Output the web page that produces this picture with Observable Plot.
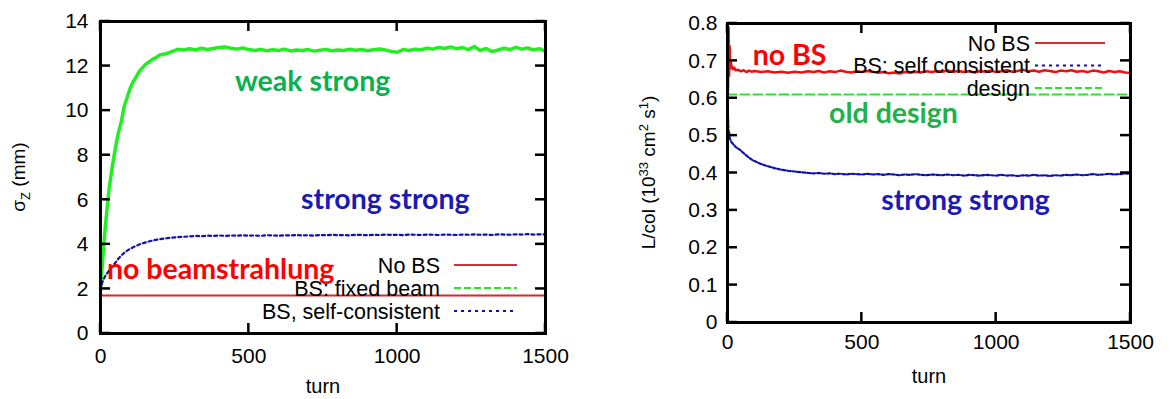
<!DOCTYPE html>
<html><head><meta charset="utf-8">
<script src="https://cdn.jsdelivr.net/npm/d3@7"></script>
<script src="https://cdn.jsdelivr.net/npm/@observablehq/plot@0.6"></script>
<style>
body{margin:0;background:#fff;}
#wrap{position:relative;width:1171px;height:399px;overflow:hidden;background:#fff;}
#left,#right{position:absolute;top:0;}
#left{left:0;} #right{left:585px;}
</style></head><body><div id="wrap"><div id="left"></div><div id="right"></div></div>
<script>
// ---------- tick labels ----------
const xTicks = [0, 500, 1000, 1500];
const leftYTicks = [0, 2, 4, 6, 8, 10, 12, 14];
const rightYTicks = [0, 0.1, 0.2, 0.3, 0.4, 0.5, 0.6, 0.7, 0.8];

// ---------- left panel: sigma_z (mm) vs turn ----------
const leftTurns = [0,5,10,15,20,25,30,40,50,60,70,80,90,100,110,120,130,140,150,160,175,190,200,220,240,260,280,
  300,320,340,360,380,400,420,440,460,480,500,520,540,560,580,600,620,640,660,680,700,720,740,760,780,800,
  820,840,860,880,900,920,940,960,980,1000,1020,1040,1060,1080,1100,1120,1140,1160,1180,1200,1220,1240,1260,
  1280,1300,1320,1340,1360,1380,1400,1420,1440,1460,1480,1500];
const weakStrong = [2.0,2.9,3.8,4.6,5.3,6.0,6.6,7.5,8.3,9.0,9.5,10.2,10.6,11.0,11.3,11.5,11.75,11.9,12.05,12.15,12.3,12.4,12.5,12.55,12.65,12.75,12.72,
  12.78,12.72,12.80,12.74,12.79,12.83,12.86,12.80,12.76,12.81,12.74,12.70,12.75,12.69,12.73,12.70,12.76,12.68,12.72,12.70,12.74,12.67,12.71,12.75,12.69,12.72,
  12.70,12.76,12.71,12.74,12.69,12.73,12.77,12.72,12.66,12.62,12.74,12.70,12.76,12.73,12.80,12.76,12.84,12.79,12.86,12.78,12.83,12.74,12.88,
  12.70,12.79,12.65,12.72,12.80,12.74,12.84,12.76,12.81,12.73,12.78,12.66];
const strongStrongL = [1.95,2.25,2.42,2.55,2.65,2.75,2.85,3.0,3.18,3.35,3.5,3.62,3.72,3.8,3.87,3.93,3.99,4.04,4.08,4.12,4.17,4.21,4.23,4.27,4.3,4.32,4.34,
  4.36,4.38,4.37,4.39,4.38,4.40,4.38,4.40,4.39,4.41,4.39,4.40,4.38,4.41,4.40,4.39,4.41,4.40,4.42,4.40,4.41,4.39,4.42,4.41,4.43,4.41,
  4.42,4.40,4.43,4.42,4.41,4.43,4.42,4.44,4.42,4.43,4.41,4.44,4.43,4.42,4.44,4.43,4.42,4.44,4.43,4.42,4.44,4.43,4.45,
  4.43,4.44,4.42,4.45,4.44,4.43,4.45,4.44,4.46,4.44,4.45,4.45];
const noBSLTurns = [0, 250, 500, 750, 1000, 1250, 1500];
const noBSL = [1.7, 1.7, 1.7, 1.7, 1.7, 1.7, 1.7];

// ---------- right panel: L/col vs turn ----------
const rightTurns = [0,2,4,6,8,10,12,15,20,25,30,40,50,60,70,80,90,100,125,150,175,200,225,250,275,300,
  320,340,360,380,400,420,440,460,480,500,520,540,560,580,600,620,640,660,680,700,720,740,760,780,800,
  820,840,860,880,900,920,940,960,980,1000,1020,1040,1060,1080,1100,1120,1140,1160,1180,1200,1220,1240,1260,
  1280,1300,1320,1340,1360,1380,1400,1420,1440,1460,1480,1500];
const noBSR = [0.64,0.62,0.79,0.66,0.74,0.68,0.70,0.685,0.678,0.682,0.675,0.676,0.672,0.675,0.670,0.674,0.671,0.673,0.670,0.672,0.669,0.671,0.668,0.671,0.669,0.672,
  0.670,0.673,0.669,0.672,0.670,0.674,0.671,0.669,0.672,0.670,0.673,0.671,0.668,0.670,0.667,0.669,0.666,0.670,0.668,0.671,0.669,0.672,0.670,0.673,0.671,
  0.674,0.671,0.673,0.670,0.672,0.669,0.673,0.671,0.674,0.670,0.672,0.675,0.671,0.673,0.676,0.672,0.674,0.671,0.675,0.673,0.670,0.674,0.672,
  0.675,0.671,0.673,0.670,0.674,0.672,0.669,0.673,0.670,0.672,0.669,0.668];
const selfConsistent = [0.50,0.555,0.50,0.51,0.495,0.49,0.487,0.482,0.478,0.474,0.47,0.465,0.46,0.453,0.447,0.441,0.436,0.432,0.424,0.418,0.413,0.409,0.406,0.404,0.402,0.400,
  0.399,0.400,0.398,0.399,0.397,0.398,0.396,0.398,0.397,0.396,0.398,0.396,0.397,0.395,0.397,0.396,0.394,0.396,0.395,0.397,0.395,0.394,0.396,0.395,0.394,
  0.396,0.394,0.395,0.393,0.395,0.394,0.393,0.395,0.394,0.393,0.395,0.393,0.394,0.392,0.394,0.393,0.395,0.393,0.394,0.392,0.394,0.393,0.395,
  0.394,0.396,0.394,0.395,0.397,0.395,0.396,0.398,0.396,0.397,0.399,0.398];
const designTurns = [0, 1500];
const design = [0.61, 0.61];

// ---------- legends and annotations ----------
const leftLegend = [
  {label: "No BS", color: "#d03030", dash: null},
  {label: "BS: fixed beam", color: "#33dd33", dash: "7,3"},
  {label: "BS, self-consistent", color: "#1010b0", dash: "3,4"}
];
const rightLegend = [
  {label: "No BS", color: "#d03030", dash: null},
  {label: "BS: self consistent", color: "#1010b0", dash: "3,4"},
  {label: "design", color: "#33dd33", dash: "7,3"}
];
const leftNotes = [
  {text: "weak strong", turn: 715, val: 11.27, color: "#0ab050"},
  {text: "strong strong", turn: 960, val: 6.0, color: "#1a1ab4"},
  {text: "no beamstrahlung", turn: 405, val: 2.85, color: "#ff0000"}
];
const rightNotes = [
  {text: "no BS", turn: 231, val: 0.714, color: "#ff0000"},
  {text: "old design", turn: 618, val: 0.559, color: "#22b04a"},
  {text: "strong strong", turn: 886, val: 0.326, color: "#1a1ab4"}
];

// ---------- helpers ----------
const zip = (t, v) => t.map((d, i) => ({turn: d, v: v[i]}));
const FONT = "'Liberation Sans', Arial, sans-serif";

function inwardTicks(xt, yt, len) {
  return (index, scales, values, dims) => {
    const {width, height, marginLeft, marginRight, marginTop, marginBottom} = dims;
    const top = marginTop, bottom = height - marginBottom, left = marginLeft, right = width - marginRight;
    const g = d3.create("svg:g").attr("stroke", "#000").attr("stroke-width", 2.5);
    for (const v of xt) {
      const x = scales.x(v);
      g.append("line").attr("x1", x).attr("x2", x).attr("y1", bottom).attr("y2", bottom - len);
      g.append("line").attr("x1", x).attr("x2", x).attr("y1", top).attr("y2", top + len);
    }
    for (const v of yt) {
      const y = scales.y(v);
      g.append("line").attr("x1", left).attr("x2", left + len).attr("y1", y).attr("y2", y);
      g.append("line").attr("x1", right).attr("x2", right - len).attr("y1", y).attr("y2", y);
    }
    return g.node();
  };
}

function legend(items, textRight, lineX1, lineX2, y0, step) {
  return (index, scales, values, dims) => {
    const right = dims.width - dims.marginRight, top = dims.marginTop;
    const g = d3.create("svg:g");
    items.forEach((it, i) => {
      const y = top + y0 + i * step;
      g.append("text").attr("x", right - textRight).attr("y", y).attr("dy", "0.35em")
        .attr("text-anchor", "end").attr("font-family", FONT).attr("font-size", 21.5).attr("fill", "#000").text(it.label);
      const l = g.append("line").attr("x1", right - lineX1).attr("x2", right - lineX2).attr("y1", y).attr("y2", y)
        .attr("stroke", it.color).attr("stroke-width", 2);
      if (it.dash) l.attr("stroke-dasharray", it.dash);
    });
    return g.node();
  };
}

function yLabel(parts, xOff) {
  return (index, scales, values, dims) => {
    const cy = (dims.marginTop + dims.height - dims.marginBottom) / 2;
    const g = d3.create("svg:g").attr("transform", `translate(${dims.marginLeft - xOff},${cy}) rotate(-90)`);
    const t = g.append("text").attr("text-anchor", "middle").attr("dy", "0.35em")
      .attr("font-family", FONT).attr("font-size", 19).attr("fill", "#000");
    for (const p of parts) {
      const s = t.append("tspan").text(p.t);
      if (p.dy) s.attr("dy", p.dy);
      if (p.fs) s.attr("font-size", p.fs);
    }
    return g.node();
  };
}

function panel({width, margins, yDomain, yTicks, lines, notes, leg, ylab, turnDy, xPad, yPad}) {
  return Plot.plot({
    width, height: 399,
    marginLeft: margins[0], marginRight: margins[1], marginTop: margins[2], marginBottom: margins[3],
    x: {domain: [0, 1500]},
    y: {domain: yDomain},
    style: {fontFamily: FONT, fontSize: "21px", color: "#000", background: "#fff", overflow: "visible"},
    marks: [
      Plot.axisX({ticks: xTicks, tickSize: 0, tickPadding: xPad, label: null, tickFormat: d => String(d), fontSize: 21}),
      Plot.axisY({ticks: yTicks, tickSize: 0, tickPadding: yPad, label: null, tickFormat: d => String(d), fontSize: 21}),
      ...lines.map(s => Plot.line(s.data, {x: "turn", y: "v", stroke: s.color, strokeWidth: s.w, strokeDasharray: s.dash, curve: "linear"})),
      Plot.frame({stroke: "#000", strokeWidth: 3}),
      inwardTicks(xTicks, yTicks, 10),
      Plot.text(notes, {x: "turn", y: "val", text: "text", fill: "color", fontFamily: "Lato, 'Open Sans', sans-serif",
        fontWeight: "bold", fontSize: 28.5, textAnchor: "middle", lineAnchor: "middle"}),
      leg,
      ylab,
      Plot.text(["turn"], {frameAnchor: "bottom", dy: turnDy, text: d => d, fontSize: 20, lineAnchor: "middle", fill: "#000"})
    ]
  });
}

const leftPlot = panel({
  width: 585, margins: [100, 40, 21, 66], yDomain: [0, 14], yTicks: leftYTicks, xPad: 15, yPad: 12,
  lines: [
    {data: zip(noBSLTurns, noBSL), color: "#d42a2a", w: 2},
    {data: zip(leftTurns, weakStrong), color: "#22ee22", w: 3.5},
    {data: zip(leftTurns, strongStrongL), color: "#1010b0", w: 2.2, dash: "3,3"}
  ],
  notes: leftNotes,
  leg: legend(leftLegend, 105, 91, 28, 244, 23),
  ylab: yLabel([{t: "σ"}, {t: "Z", dy: 5, fs: 13}, {t: " (mm)", dy: -5}], 82),
  turnDy: 53
});

const rightPlot = panel({
  width: 586, margins: [142, 41, 23, 77], yDomain: [0, 0.8], yTicks: rightYTicks, xPad: 12, yPad: 10,
  lines: [
    {data: zip(designTurns, design), color: "#33dd33", w: 2, dash: "9,4"},
    {data: zip(rightTurns, noBSR), color: "#ee1010", w: 2.5},
    {data: zip(rightTurns, selfConsistent), color: "#1010b0", w: 2.2, dash: "3,2"}
  ],
  notes: rightNotes,
  leg: legend(rightLegend, 100, 95, 25, 20, 22.5),
  ylab: yLabel([{t: "L/col (10"}, {t: "33", dy: -7, fs: 13}, {t: " cm", dy: 7}, {t: "2", dy: -7, fs: 13},
    {t: " s", dy: 7}, {t: "1", dy: -7, fs: 13}, {t: ")", dy: 7}], 79),
  turnDy: 54
});

document.getElementById("left").appendChild(leftPlot);
document.getElementById("right").appendChild(rightPlot);
</script></body></html>
